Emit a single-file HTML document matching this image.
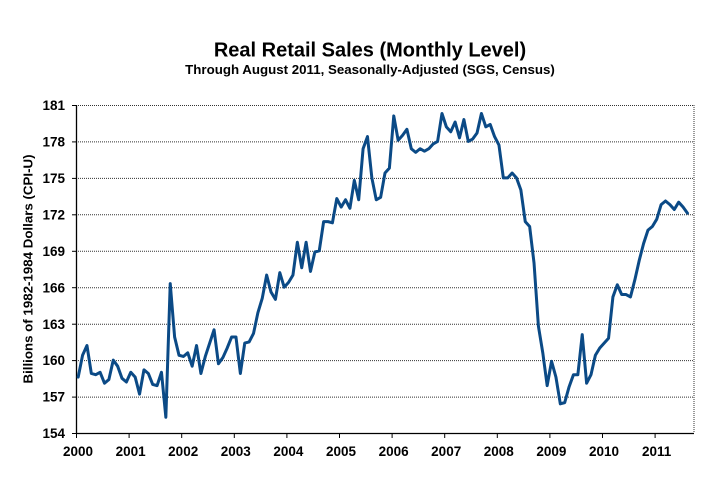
<!DOCTYPE html>
<html>
<head>
<meta charset="utf-8">
<style>
  html, body { margin: 0; padding: 0; background: #fff; }
  svg { display: block; }
  text { font-family: "Liberation Sans", Arial, sans-serif; font-weight: bold; fill: #000; }
</style>
</head>
<body>
<svg width="721" height="480" viewBox="0 0 721 480" xmlns="http://www.w3.org/2000/svg">
  <rect x="0" y="0" width="721" height="480" fill="#fff"/>

  <!-- Title -->
  <text x="370" y="56.5" font-size="20" text-anchor="middle">Real Retail Sales (Monthly Level)</text>
  <text x="370" y="74" font-size="13.3" text-anchor="middle">Through August 2011, Seasonally-Adjusted (SGS, Census)</text>

  <!-- Gridlines -->
  <g stroke="#333" stroke-width="1" stroke-dasharray="1 1" fill="none">
    <line x1="76" y1="105.5" x2="694" y2="105.5"/>
    <line x1="76" y1="141.9" x2="694" y2="141.9"/>
    <line x1="76" y1="178.4" x2="694" y2="178.4"/>
    <line x1="76" y1="214.8" x2="694" y2="214.8"/>
    <line x1="76" y1="251.3" x2="694" y2="251.3"/>
    <line x1="76" y1="287.7" x2="694" y2="287.7"/>
    <line x1="76" y1="324.2" x2="694" y2="324.2"/>
    <line x1="76" y1="360.6" x2="694" y2="360.6"/>
    <line x1="76" y1="397.1" x2="694" y2="397.1"/>
    <line x1="694" y1="105" x2="694" y2="433"/>
  </g>

  <!-- Axes -->
  <g stroke="#000" stroke-width="1.3" fill="none">
    <line x1="76.5" y1="105" x2="76.5" y2="433.5"/>
    <line x1="76" y1="433.5" x2="694" y2="433.5"/>
  </g>
  <!-- Left ticks -->
  <g stroke="#000" stroke-width="1">
    <line x1="72" y1="105.5" x2="76" y2="105.5"/>
    <line x1="72" y1="141.9" x2="76" y2="141.9"/>
    <line x1="72" y1="178.4" x2="76" y2="178.4"/>
    <line x1="72" y1="214.8" x2="76" y2="214.8"/>
    <line x1="72" y1="251.3" x2="76" y2="251.3"/>
    <line x1="72" y1="287.7" x2="76" y2="287.7"/>
    <line x1="72" y1="324.2" x2="76" y2="324.2"/>
    <line x1="72" y1="360.6" x2="76" y2="360.6"/>
    <line x1="72" y1="397.1" x2="76" y2="397.1"/>
    <line x1="72" y1="433.5" x2="76" y2="433.5"/>
  </g>
  <!-- Bottom ticks -->
  <g stroke="#000" stroke-width="1">
    <line x1="76.5" y1="433" x2="76.5" y2="438"/>
    <line x1="129.1" y1="433" x2="129.1" y2="438"/>
    <line x1="181.7" y1="433" x2="181.7" y2="438"/>
    <line x1="234.3" y1="433" x2="234.3" y2="438"/>
    <line x1="286.9" y1="433" x2="286.9" y2="438"/>
    <line x1="339.5" y1="433" x2="339.5" y2="438"/>
    <line x1="392.1" y1="433" x2="392.1" y2="438"/>
    <line x1="444.7" y1="433" x2="444.7" y2="438"/>
    <line x1="497.3" y1="433" x2="497.3" y2="438"/>
    <line x1="549.9" y1="433" x2="549.9" y2="438"/>
    <line x1="602.5" y1="433" x2="602.5" y2="438"/>
    <line x1="655.1" y1="433" x2="655.1" y2="438"/>
  </g>

  <!-- Y tick labels -->
  <g font-size="13.5" text-anchor="end">
    <text x="65" y="110">181</text>
    <text x="65" y="146.5">178</text>
    <text x="65" y="183">175</text>
    <text x="65" y="219.4">172</text>
    <text x="65" y="255.9">169</text>
    <text x="65" y="292.3">166</text>
    <text x="65" y="328.8">163</text>
    <text x="65" y="365.2">160</text>
    <text x="65" y="401.7">157</text>
    <text x="65" y="438.1">154</text>
  </g>

  <!-- X tick labels -->
  <g font-size="13.5" text-anchor="middle">
    <text x="78" y="456">2000</text>
    <text x="130.6" y="456">2001</text>
    <text x="183.2" y="456">2002</text>
    <text x="235.8" y="456">2003</text>
    <text x="288.4" y="456">2004</text>
    <text x="341" y="456">2005</text>
    <text x="393.6" y="456">2006</text>
    <text x="446.2" y="456">2007</text>
    <text x="498.8" y="456">2008</text>
    <text x="551.4" y="456">2009</text>
    <text x="604" y="456">2010</text>
    <text x="656.6" y="456">2011</text>
  </g>

  <!-- Y axis title -->
  <text x="0" y="0" font-size="13.3" text-anchor="middle" transform="translate(32.5,269) rotate(-90)">Billions of 1982-1984 Dollars (CPI-U)</text>

  <!-- Data series -->
  <polyline fill="none" stroke="#0b4a86" stroke-width="3" stroke-linejoin="round" stroke-linecap="round" vector-effect="non-scaling-stroke"
    transform="translate(78.19,433) scale(4.383,-12.148) translate(0,-154)"
    points="0,158.6 1,160.4 2,161.2 3,158.9 4,158.8 5,159.0 6,158.1 7,158.4 8,160.0 9,159.5
10,158.5 11,158.2 12,159.0 13,158.6 14,157.2 15,159.2 16,158.9 17,158.0 18,157.9 19,159.0
20,155.3 21,166.3 22,161.9 23,160.4 24,160.3 25,160.6 26,159.5 27,161.2 28,158.9 29,160.3
30,161.4 31,162.5 32,159.7 33,160.2 34,161.0 35,161.9 36,161.9 37,158.9 38,161.4 39,161.5
40,162.2 41,163.9 42,165.1 43,167.0 44,165.6 45,165.0 46,167.2 47,166.0 48,166.4 49,167.0
50,169.7 51,167.6 52,169.7 53,167.3 54,168.9 55,169.0 56,171.4 57,171.4 58,171.3 59,173.3
60,172.6 61,173.2 62,172.5 63,174.8 64,173.2 65,177.4 66,178.4 67,175.0 68,173.2 69,173.4
70,175.4 71,175.8 72,180.1 73,178.1 74,178.5 75,179.0 76,177.4 77,177.1 78,177.4 79,177.2
80,177.4 81,177.8 82,178.0 83,180.3 84,179.2 85,178.8 86,179.6 87,178.3 88,179.8 89,178.0
90,178.2 91,178.7 92,180.3 93,179.2 94,179.4 95,178.4 96,177.7 97,175.0 98,175.0 99,175.4
100,175.0 101,174.0 102,171.4 103,171.0 104,168.0 105,162.8 106,160.6 107,157.9 108,159.9 109,158.6
110,156.4 111,156.5 112,157.8 113,158.8 114,158.8 115,162.1 116,158.1 117,158.8 118,160.4 119,161.0
120,161.4 121,161.8 122,165.2 123,166.2 124,165.4 125,165.4 126,165.2 127,166.6 128,168.2 129,169.6
130,170.7 131,171.0 132,171.6 133,172.8 134,173.1 135,172.8 136,172.4 137,173.0 138,172.6 139,172.1"/>
</svg>
</body>
</html>
